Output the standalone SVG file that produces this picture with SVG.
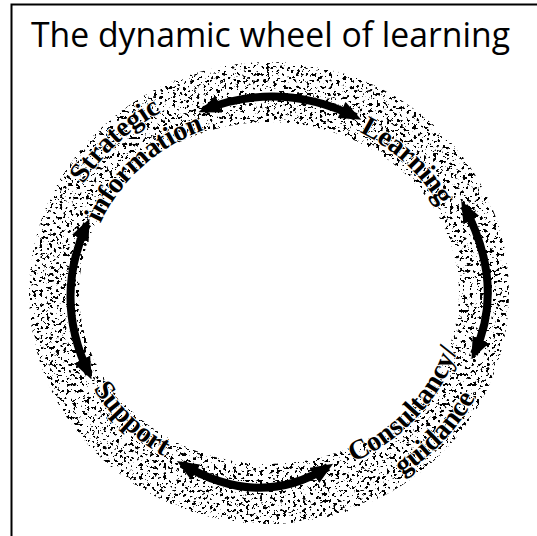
<svg xmlns="http://www.w3.org/2000/svg" width="537" height="536" viewBox="0 0 537 536">
  <style>
    .title { font-family: "Open Sans", "Noto Sans", "DejaVu Sans", sans-serif; font-size: 35px; fill: #000; }
    .lbl { font-family: "Liberation Serif", "Times New Roman", serif; font-weight: bold; font-size: 28px; fill: #000; stroke: #fff; stroke-width: 2; paint-order: stroke; stroke-linejoin: round; }
    .arrow { fill: none; stroke: #000; stroke-width: 8; marker-start: url(#ah); marker-end: url(#ah); }
  </style>
  <defs>
    <filter id="speckle" x="0" y="0" width="537" height="536" filterUnits="userSpaceOnUse">
      <feTurbulence type="fractalNoise" baseFrequency="0.3" numOctaves="3" seed="11" result="n"/>
      <feColorMatrix in="n" type="matrix" values="0 0 0 0 0  0 0 0 0 0  0 0 0 0 0  24 0 0 0 -14.2" result="dots"/>
      <feComposite in="dots" in2="SourceAlpha" operator="in"/>
    </filter>
    <marker id="ah" viewBox="0 0 22 18" markerWidth="22" markerHeight="18" refX="16" refY="9" orient="auto-start-reverse" markerUnits="userSpaceOnUse">
      <path d="M0,0 L22,9 L0,18 z" fill="#000"/>
    </marker>
    <path id="pStrat" d="M51,293 A218,208 0 0 1 487,293"/>
    <path id="pInfo" d="M85,293 A184,174 0 0 1 453,293"/>
    <path id="pLearn" d="M75,293 A194,182 0 0 1 463,293"/>
    <path id="pSupport" d="M66,293 A203,191 0 0 0 472,293"/>
    <path id="pConsult" d="M71,293 A198,187 0 0 0 467,293"/>
    <path id="pGuid" d="M35,293 A234,222 0 0 0 503,293"/>
  </defs>

  <rect x="0" y="0" width="537" height="536" fill="#fff"/>
  <path d="M11.5,536 L11.5,4.5 L537,4.5" fill="none" stroke="#000" stroke-width="2"/>

  <text class="title" x="31" y="47" textLength="479" lengthAdjust="spacingAndGlyphs">The dynamic wheel of learning</text>

  <g id="wheel">
    <path d="M29,293 A240,231 0 1 0 509,293 A240,231 0 1 0 29,293 Z M79,293 A190,171 0 1 1 459,293 A190,171 0 1 1 79,293 Z" fill="#000" fill-rule="evenodd" filter="url(#speckle)"/>
  </g>

  <g id="connectors">
    <path class="arrow" d="M204,110 Q280,80 356,117"/>
    <path class="arrow" d="M464,206 Q506,286 474,354"/>
    <path class="arrow" d="M182,464 Q259,510 328,467"/>
    <path class="arrow" d="M87,224 Q53,299 89,374"/>
  </g>

  <g id="node-strategic">
    <text class="lbl"><textPath href="#pStrat" startOffset="25.2%" text-anchor="middle">Strategic</textPath></text>
    <text class="lbl"><textPath href="#pInfo" startOffset="25.5%" text-anchor="middle">information</textPath></text>
  </g>
  <g id="node-learning">
    <text class="lbl"><textPath href="#pLearn" startOffset="75.2%" text-anchor="middle">Learning</textPath></text>
  </g>
  <g id="node-consultancy">
    <text class="lbl"><textPath href="#pConsult" startOffset="77.4%" text-anchor="middle">Consultancy/</textPath></text>
    <text class="lbl"><textPath href="#pGuid" startOffset="77.2%" text-anchor="middle">guidance</textPath></text>
  </g>
  <g id="node-support">
    <text class="lbl"><textPath href="#pSupport" startOffset="24.2%" text-anchor="middle">Support</textPath></text>
  </g>
</svg>
